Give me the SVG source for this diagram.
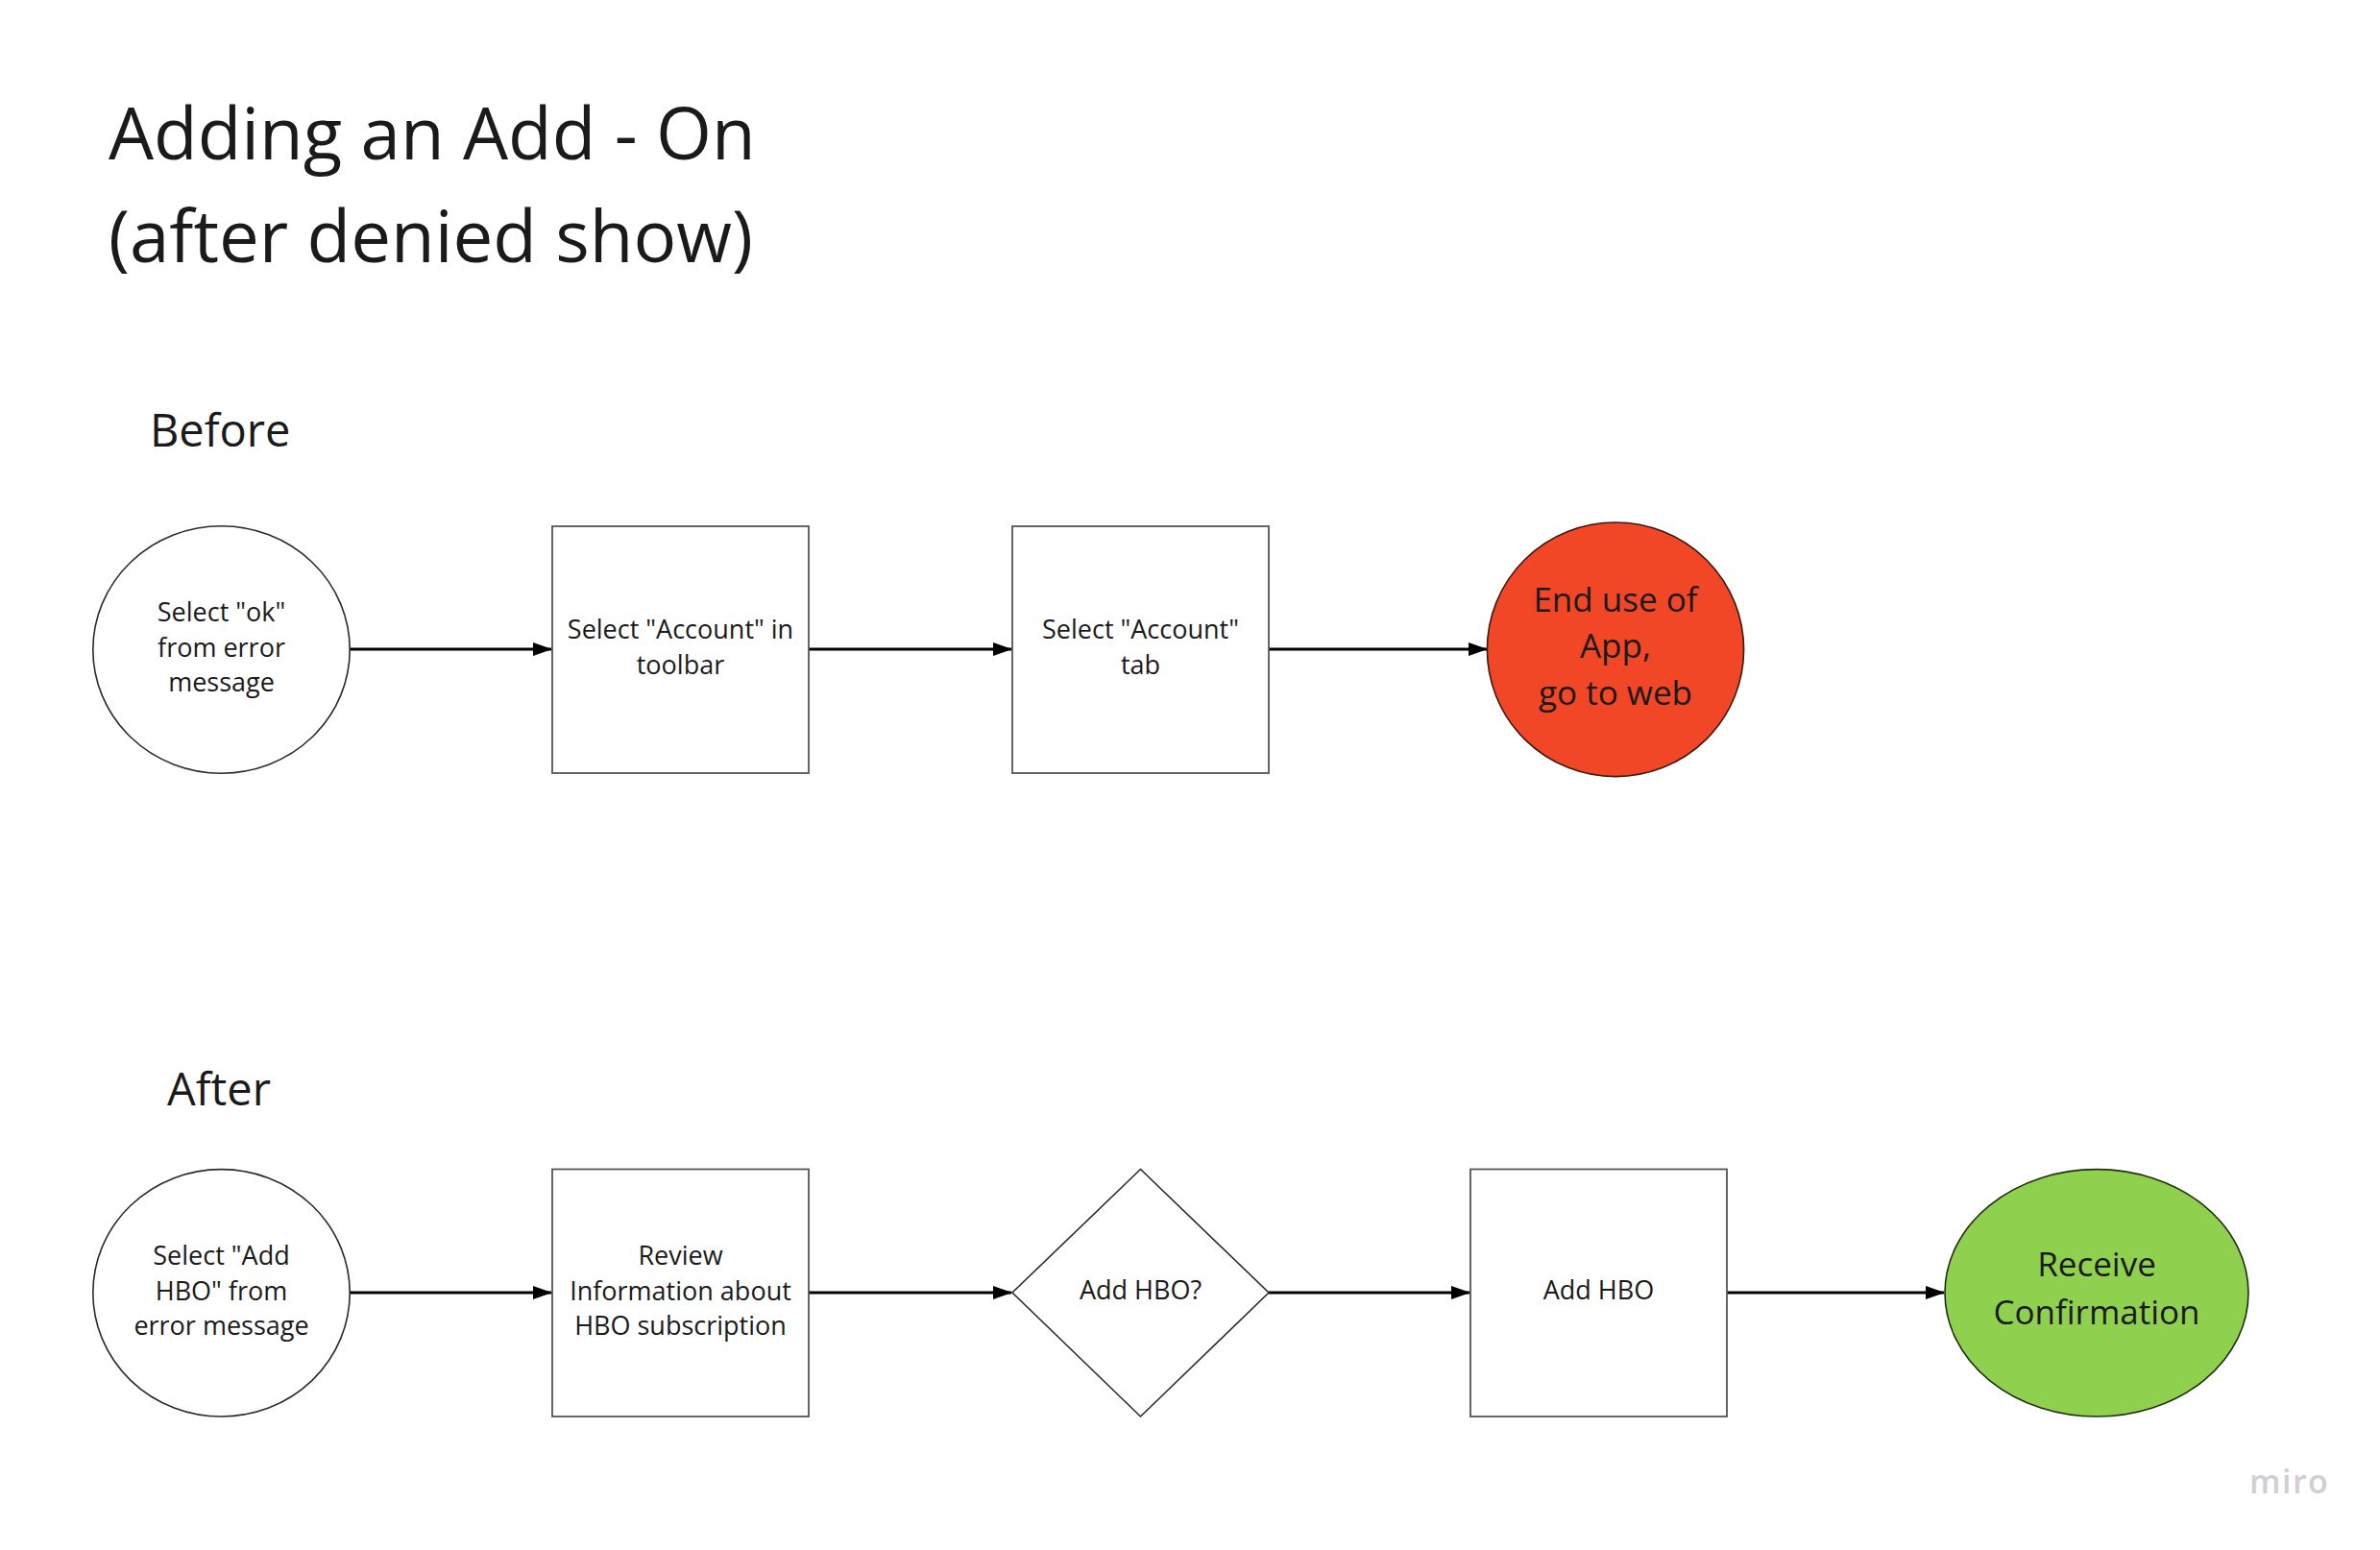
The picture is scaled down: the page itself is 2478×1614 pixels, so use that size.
<svg xmlns="http://www.w3.org/2000/svg" width="2478" height="1614" viewBox="0 0 2478 1614">
<style>
text{font-family:"Open Sans","Noto Sans","Liberation Sans",sans-serif;fill:#1a1a1a}
.t{font-size:27px;text-anchor:middle}
.b{font-size:35px;text-anchor:middle}
.shape{fill:#ffffff;stroke:#2b2b2b;stroke-width:1.6}
.box{fill:#ffffff;stroke:#555555;stroke-width:1.8}
.con{stroke:#000000;stroke-width:3;fill:none;marker-end:url(#ah)}
</style>
<defs>
<marker id="ah" viewBox="0 0 20 14" refX="19" refY="7" markerWidth="20" markerHeight="14" markerUnits="userSpaceOnUse" orient="auto">
<path d="M0,0 L20,7 L0,14 Z" fill="#000000"/>
</marker>
</defs>
<rect x="0" y="0" width="2478" height="1614" fill="#ffffff"/>
<g id="title">
<text x="113" y="166" font-size="74.5">Adding an Add - On</text>
<text x="113" y="273" font-size="74.5">(after denied show)</text>
</g>
<g id="label-before"><text x="156" y="465" font-size="47">Before</text></g>
<g id="label-after"><text x="174" y="1151" font-size="47">After</text></g>
<g id="connectors">
<line class="con" x1="364" y1="676" x2="574" y2="676"/>
<line class="con" x1="842" y1="676" x2="1053" y2="676"/>
<line class="con" x1="1321" y1="676" x2="1548" y2="676"/>
<line class="con" x1="364" y1="1346" x2="574" y2="1346"/>
<line class="con" x1="842" y1="1346" x2="1053" y2="1346"/>
<line class="con" x1="1321" y1="1346" x2="1530" y2="1346"/>
<line class="con" x1="1798" y1="1346" x2="2024" y2="1346"/>
</g>
<g id="n-select-ok">
<ellipse class="shape" cx="230.5" cy="676.5" rx="133.7" ry="128.7"/>
<text class="t" x="230.5" y="647">Select "ok"</text>
<text class="t" x="230.5" y="683.5">from error</text>
<text class="t" x="230.5" y="720">message</text>
</g>
<g id="n-account-toolbar">
<rect class="box" x="575" y="548" width="267" height="257"/>
<text class="t" x="708.5" y="665">Select "Account" in</text>
<text class="t" x="708.5" y="701.5">toolbar</text>
</g>
<g id="n-account-tab">
<rect class="box" x="1054" y="548" width="267" height="257"/>
<text class="t" x="1187.5" y="665">Select "Account"</text>
<text class="t" x="1187.5" y="701.5">tab</text>
</g>
<g id="n-end-use">
<ellipse cx="1682" cy="676.3" rx="133.6" ry="132.3" fill="#f24726" stroke="#3a1a10" stroke-width="1.6"/>
<text class="b" x="1682" y="636.5">End use of</text>
<text class="b" x="1682" y="685">App,</text>
<text class="b" x="1682" y="733.5">go to web</text>
</g>
<g id="n-select-add-hbo">
<ellipse class="shape" cx="230.5" cy="1346.3" rx="133.7" ry="128.7"/>
<text class="t" x="230.5" y="1317">Select "Add</text>
<text class="t" x="230.5" y="1353.5">HBO" from</text>
<text class="t" x="230.5" y="1390">error message</text>
</g>
<g id="n-review">
<rect class="box" x="575" y="1217.5" width="267" height="257.5"/>
<text class="t" x="708.5" y="1317">Review</text>
<text class="t" x="708.5" y="1353.5">Information about</text>
<text class="t" x="708.5" y="1390">HBO subscription</text>
</g>
<g id="n-decision">
<polygon class="shape" points="1187.5,1217.5 1321,1346 1187.5,1475 1054,1346"/>
<text class="t" x="1187.5" y="1353">Add HBO?</text>
</g>
<g id="n-add-hbo">
<rect class="box" x="1531" y="1217.5" width="267" height="257.5"/>
<text class="t" x="1664.5" y="1353">Add HBO</text>
</g>
<g id="n-receive">
<ellipse cx="2183" cy="1346.3" rx="158" ry="128.7" fill="#8fd14f" stroke="#1f3010" stroke-width="1.6"/>
<text class="b" x="2183" y="1329">Receive</text>
<text class="b" x="2183" y="1379">Confirmation</text>
</g>
<g id="watermark">
<text x="2342" y="1555" font-size="34" font-weight="600" letter-spacing="1.5" style="fill:#cfcfd4">miro</text>
</g>
</svg>
